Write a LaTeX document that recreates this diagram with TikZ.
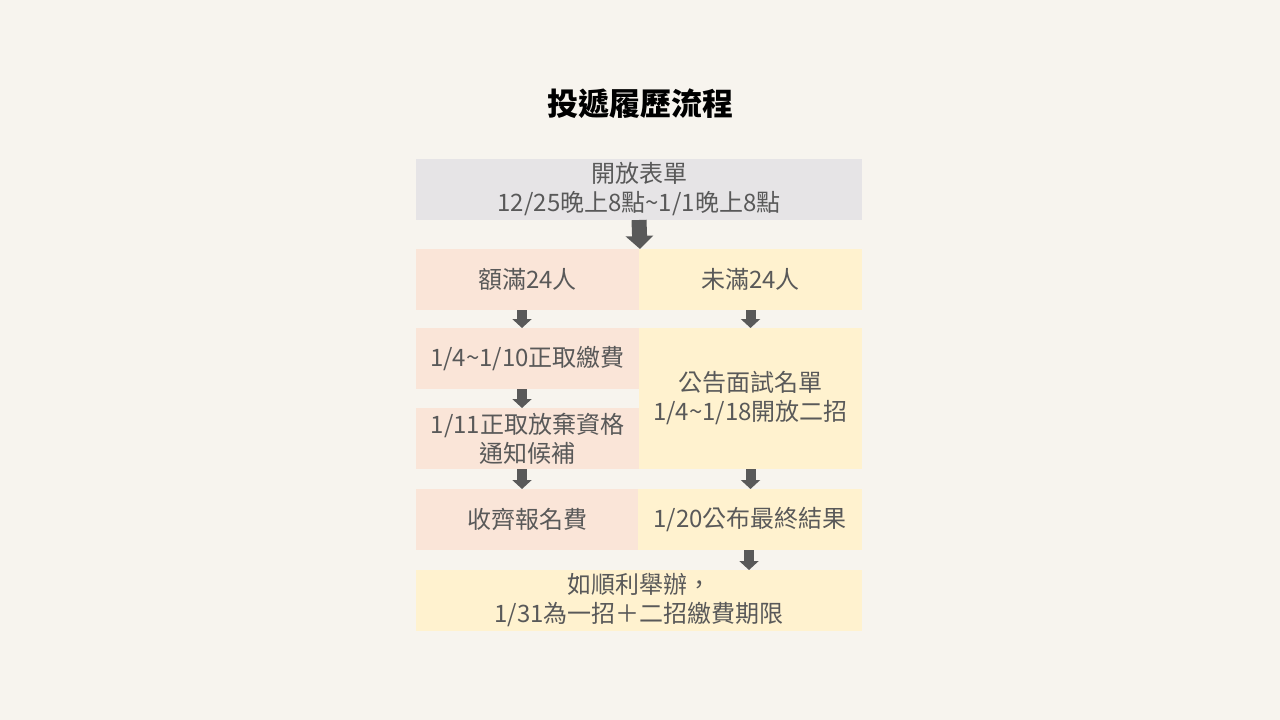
\documentclass[tikz,border=0pt]{standalone}
\usepackage{fontspec}
\newfontfamily\cjk{Noto Sans CJK TC}
\usetikzlibrary{arrows.meta}
\definecolor{bg}{HTML}{F7F4EE}
\definecolor{graybox}{HTML}{E6E4E6}
\definecolor{peach}{HTML}{FAE5D8}
\definecolor{lemon}{HTML}{FFF2CF}
\definecolor{txt}{HTML}{595959}
\definecolor{arrowc}{HTML}{595959}
\tikzset{
  box/.style={inner sep=0pt, outer sep=0pt, anchor=north west, align=center, text=txt,
    font=\cjk\fontsize{24}{29}\selectfont},
  arr/.style={draw=arrowc, line width=10pt, -{Triangle[width=19pt,length=9pt]}},
  bigarr/.style={draw=arrowc, line width=15pt, -{Triangle[width=27pt,length=13pt]}},
}
\begin{document}
\begin{tikzpicture}[x=1pt,y=-1pt]
\fill[bg] (0,0) rectangle (1280,720);
\useasboundingbox (0,0) rectangle (1280,720);
\node[font=\cjk\bfseries\fontsize{31}{34}\selectfont, text=black] (title) at (640,104) {投遞履歷流程};
\node[box, fill=graybox, minimum width=446pt, minimum height=61pt] (open) at (416,159) {開放表單\\12/25晚上8點\textasciitilde1/1晚上8點};
\node[box, fill=peach, minimum width=223pt, minimum height=61pt] (full) at (416,249) {額滿24人};
\node[box, fill=lemon, minimum width=223pt, minimum height=61pt] (notfull) at (639,249) {未滿24人};
\node[box, fill=peach, minimum width=223pt, minimum height=61pt] (pay) at (416,328) {1/4\textasciitilde1/10正取繳費};
\node[box, fill=lemon, minimum width=223pt, minimum height=141pt] (announce) at (639,328) {公告面試名單\\1/4\textasciitilde1/18開放二招};
\node[box, fill=peach, minimum width=223pt, minimum height=61pt] (waive) at (416,408) {1/11正取放棄資格\\通知候補};
\node[box, fill=peach, minimum width=222pt, minimum height=61pt] (fee) at (416,489) {收齊報名費};
\node[box, fill=lemon, minimum width=224pt, minimum height=61pt] (result) at (638,489) {1/20公布最終結果};
\node[box, fill=lemon, minimum width=446pt, minimum height=61pt] (final) at (416,570) {如順利舉辦，\\1/31為一招＋二招繳費期限};
\coordinate (split) at (640,249);
\draw[bigarr] (open.south) -- (split);
\draw[arr] ([xshift=-5.5pt]full.south) -- ([xshift=-5.5pt]pay.north);
\draw[arr] (notfull.south) -- (notfull.south |- announce.north);
\draw[arr] ([xshift=-5.5pt]pay.south) -- ([xshift=-5.5pt]waive.north);
\draw[arr] ([xshift=-5.5pt]waive.south) -- ([xshift=-5.5pt]waive.south |- fee.north);
\draw[arr] (announce.south) -- (announce.south |- result.north);
\draw[arr] ([xshift=-1pt]result.south) -- ([xshift=-1pt]result.south |- final.north);
\end{tikzpicture}
\end{document}
